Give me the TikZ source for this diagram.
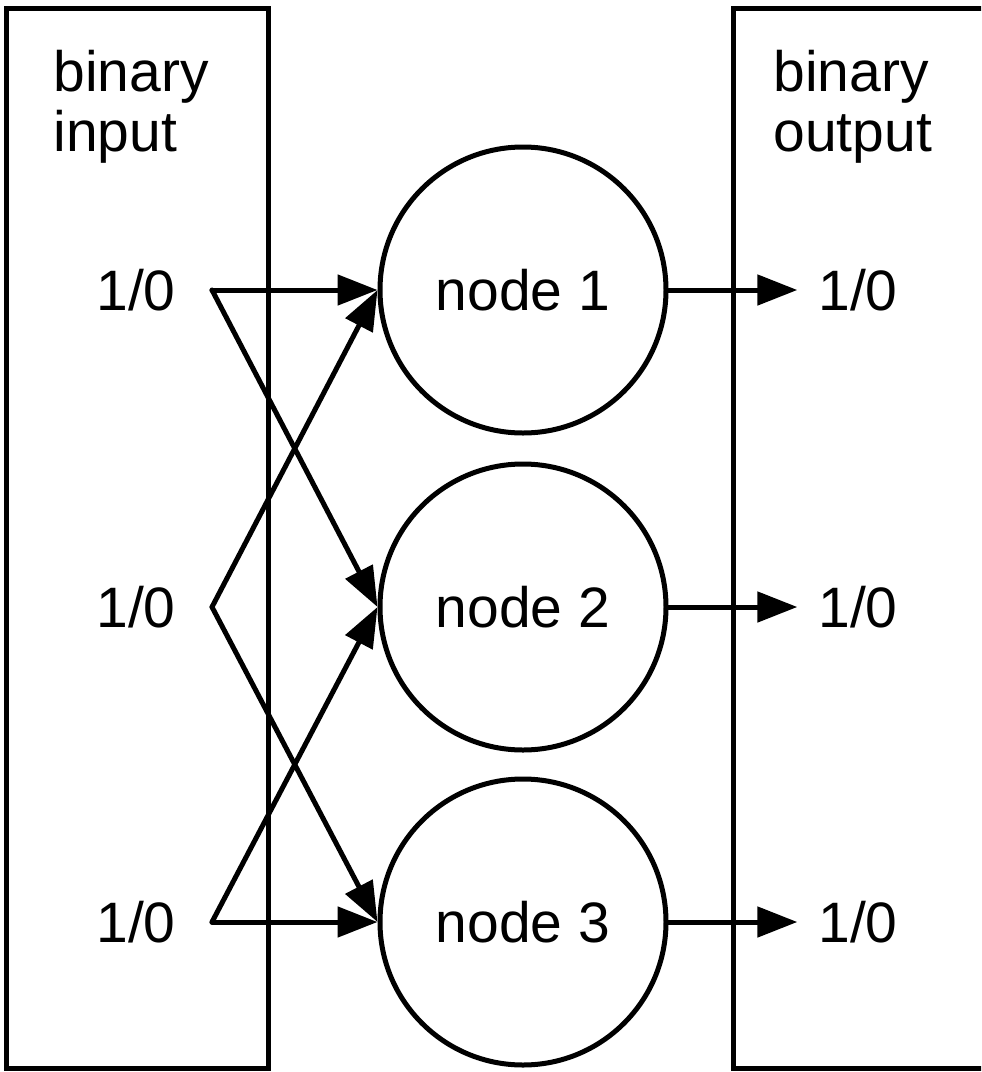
\documentclass[tikz,border=0pt]{standalone}
\usepackage{fontspec}
\setmainfont{Liberation Sans}
\usetikzlibrary{arrows.meta}

\begin{document}
\begin{tikzpicture}[x=0.5pt, y=-0.5pt,
    every node/.style={font=\fontsize{28.5}{30}\selectfont},
    neuron/.style={draw, circle, line width=2.5pt, minimum size=143pt, inner sep=0pt},
    title/.style={align=left, anchor=north west, inner sep=0pt},
    link/.style={line width=2.5pt, line cap=round, -{Triangle[length=20pt,width=15pt]}},
    box/.style={draw, line width=2.5pt}]
    \clip (0,0) rectangle (981,1072);

    % Input and output boxes
    \draw[box] (6,8) rectangle (268,1068);
    \draw[box] (733,8) rectangle (1010,1068);
    \node[title] (intitle) at (53,50) {binary\\input};
    \node[title] (outtitle) at (773,50) {binary\\output};

    % Nodes
    \node[neuron] (n1) at (523,290) {node 1};
    \node[neuron] (n2) at (523,607) {node 2};
    \node[neuron] (n3) at (523,922) {node 3};

    % Input and output values
    \foreach \i/\y in {1/290, 2/607, 3/922} {
        \node (in\i) at (136,\y) {1/0};
        \coordinate (s\i) at (212,\y);
        \node (out\i) at (858,\y) {1/0};
        \draw[link, shorten >=7pt] (n\i.east) -- (out\i.west);
    }

    % Connections
    \foreach \a/\b in {1/1, 1/2, 2/1, 2/3, 3/2, 3/3} {
        \draw[link] (s\a) -- (n\b.west);
    }
\end{tikzpicture}
\end{document}
